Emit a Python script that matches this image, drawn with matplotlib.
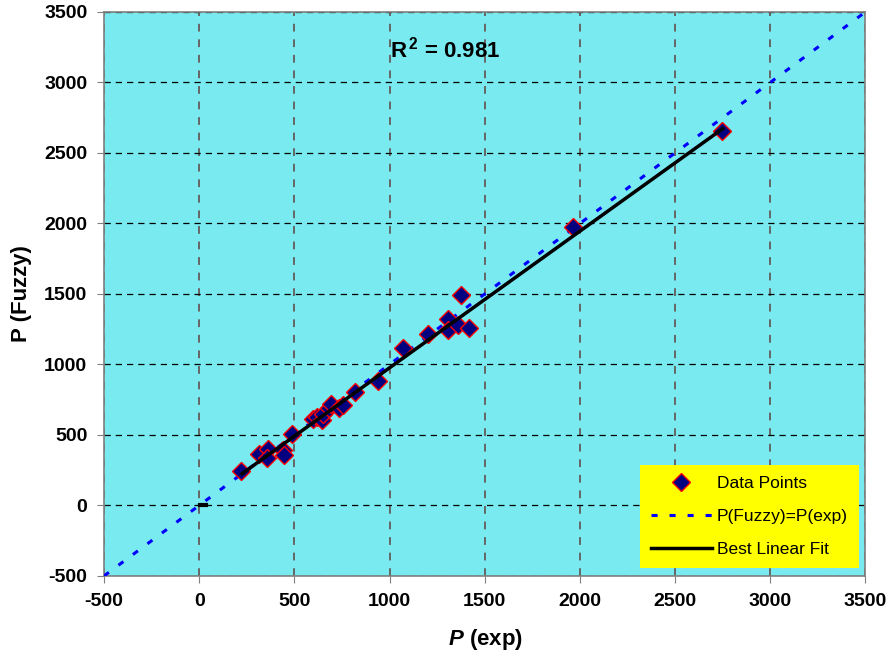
#!/usr/bin/env python3
"""
P(Fuzzy) vs P(exp) scatter with 1:1 line and best linear fit
"""
import numpy as np
import matplotlib
matplotlib.use('Agg')
import matplotlib.pyplot as plt

# measured vs predicted values
p_exp = [219, 314, 362, 358, 440, 446, 490, 600, 620, 645, 650, 680, 695,
         735, 755, 820, 940, 1069, 1200, 1305, 1305, 1358, 1419, 1376, 1963, 2749]
p_fuzzy = [243, 365, 402, 335, 390, 360, 505, 615, 630, 605, 650, 690, 720,
           690, 710, 805, 885, 1120, 1215, 1324, 1241, 1277, 1262, 1496, 1974, 2657]

# best linear fit
fit_slope = 0.969
fit_intercept = 7
fit_x = [225, 2750]

# 1:1 line range
ideal_x = [-500, 3500]
r_squared = 0.981

ticks = list(range(-500, 3501, 500))


def main():
    plt.rcParams['font.family'] = 'Liberation Sans'
    plt.rcParams['axes.unicode_minus'] = False
    plt.rcParams['mathtext.fontset'] = 'custom'
    plt.rcParams['mathtext.it'] = 'Liberation Sans:bold:italic'
    plt.rcParams['mathtext.rm'] = 'Liberation Sans:bold'

    fig = plt.figure(figsize=(8.91, 6.56), dpi=100)
    ax = fig.add_axes([0.1167, 0.122, 0.8546, 0.8598])
    ax.set_facecolor('#78EAF0')

    # grid lines
    ax.yaxis.grid(True, color='black', linestyle=(0, (5, 4)), linewidth=0.9)
    ax.xaxis.grid(True, color='#666666', linestyle=(0, (4, 4)), linewidth=1.4)
    ax.set_axisbelow(True)

    # data points
    ax.plot(p_exp, p_fuzzy, linestyle='none', marker='D', markersize=9.5,
            markerfacecolor='#000080', markeredgecolor='red',
            markeredgewidth=1.0, label='Data Points', zorder=4)

    # 1:1 line
    ax.plot(ideal_x, ideal_x, color='#0000FF', linestyle=(0, (2.0, 3.9)),
            linewidth=2.2, label='P(Fuzzy)=P(exp)', zorder=3)

    # best fit line
    fx = np.array(fit_x)
    ax.plot(fx, fit_slope * fx + fit_intercept, color='black', linewidth=2.5,
            label='Best Linear Fit', zorder=5)
    # small mark at origin
    ax.plot([5, 38], [0, 0], color='black', linewidth=3, zorder=5)

    ax.set_xlim(-500, 3500)
    ax.set_ylim(-500, 3500)
    ax.set_xticks(ticks)
    ax.set_yticks(ticks)
    ax.tick_params(axis='both', direction='out', length=5, color='#808080',
                   labelsize=14, pad=7)
    for lbl in ax.get_xticklabels() + ax.get_yticklabels():
        lbl.set_fontweight('bold')
    for sp in ax.spines.values():
        sp.set_color('#808080')
        sp.set_linewidth(1.2)

    ax.set_xlabel(r'$P$ (exp)', fontsize=16, fontweight='bold')
    ax.set_ylabel('P (Fuzzy)', fontsize=16, fontweight='bold')
    ax.xaxis.label.set_va('center')
    ax.yaxis.label.set_va('center')
    ax.xaxis.set_label_coords(0.5007, -0.113)
    ax.yaxis.set_label_coords(-0.108, 0.5)

    ax.text(0.376, 0.933, r'R$^{\,2}$ = ' + f'{r_squared:.3f}', transform=ax.transAxes,
            fontsize=16, fontweight='bold', ha='left', va='center')

    leg = ax.legend(loc='lower right', bbox_to_anchor=(0.991, 0.014),
                    fontsize=12.5, frameon=True, fancybox=False,
                    facecolor='#FFFF00', edgecolor='#FFFF00', framealpha=1,
                    handlelength=3.5, handletextpad=0.3, labelspacing=1.04,
                    borderpad=0.62, borderaxespad=0)
    leg.get_frame().set_linewidth(0)

    fig.savefig('out.png', dpi=100)
    plt.close(fig)


if __name__ == '__main__':
    main()
